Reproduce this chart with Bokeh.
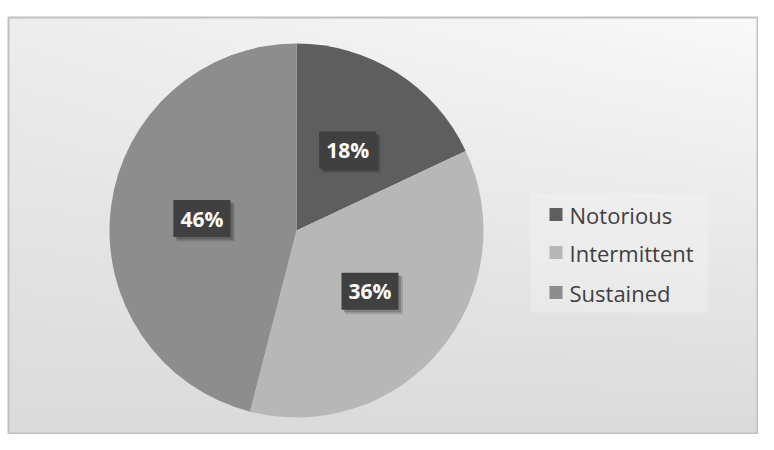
import numpy as np
from bokeh.plotting import figure
from bokeh.models import Range1d
from bokeh.embed import file_html
from bokeh.resources import INLINE
from bokeh.core.properties import value

categories = ["Notorious", "Intermittent", "Sustained"]
shares = [18, 36, 46]
pct_labels = ["18%", "36%", "46%"]
colors = ["#5e5e5e", "#b7b7b7", "#8d8d8d"]

W, H = 758, 434
p = figure(width=W, height=H, x_range=Range1d(0, W), y_range=Range1d(0, H),
           output_backend="svg", toolbar_location=None, min_border=0)
p.axis.visible = False
p.grid.visible = False
p.outline_line_color = None
p.background_fill_color = "white"
p.border_fill_color = "white"

# background gradient inside the frame
nx, ny = 200, 120
X, Y = np.meshgrid(np.linspace(0, 1, nx), np.linspace(0, 1, ny))
v = 1 - Y
g = (249 - 30 * v - 12 * (1 - X) * (1 - v)).astype(np.uint32)
img = (np.uint32(255) << 24) | (g << 16) | (g << 8) | g
p.image_rgba(image=[img], x=8, y=1, dw=749, dh=416)
p.quad(left=8, right=757, bottom=1, top=417, fill_color=None,
       line_color="#c0c0c0", line_width=2)

# pie
cx, cy, R = 296, 204, 187
vals = np.array(shares, dtype=float)
frac = vals / vals.sum()
cum = np.concatenate([[0], np.cumsum(frac)[:-1]])
starts = np.deg2rad(90 - cum * 360)
ends = np.deg2rad(90 - (cum + frac) * 360)
p.wedge(x=cx, y=cy, radius=R, start_angle=list(starts), end_angle=list(ends),
        direction="clock", fill_color=colors, line_color=None)

# data labels
mid = (starts + ends) / 2
lx = cx + 0.51 * R * np.cos(mid)
ly = cy + 0.51 * R * np.sin(mid)
p.rect(x=list(lx + 4), y=list(ly - 4), width=58, height=38,
       fill_color="black", fill_alpha=0.12, line_color=None)
p.rect(x=list(lx + 2.5), y=list(ly - 2.5), width=57, height=37,
       fill_color="black", fill_alpha=0.2, line_color=None)
p.rect(x=list(lx), y=list(ly), width=57, height=37,
       fill_color="#404040", line_color=None)
p.text(x=list(lx), y=list(ly), text=pct_labels, text_align="center",
       text_baseline="middle", text_font=value("Open Sans"),
       text_font_style="bold", text_font_size="21px", text_color="white")

# legend
p.quad(left=530, right=708, bottom=122, top=241, fill_color="#f6f6f6",
       fill_alpha=0.35, line_color=None)
leg_y = [220, 182, 142]
p.rect(x=[555.5] * 3, y=leg_y, width=13, height=13, fill_color=colors,
       line_color=None)
p.text(x=[569] * 3, y=leg_y, text=categories, text_align="left",
       text_baseline="middle", text_font=value("Open Sans"),
       text_font_size="22px", text_color="#404040")

open("out.html", "w").write(file_html(p, INLINE))
